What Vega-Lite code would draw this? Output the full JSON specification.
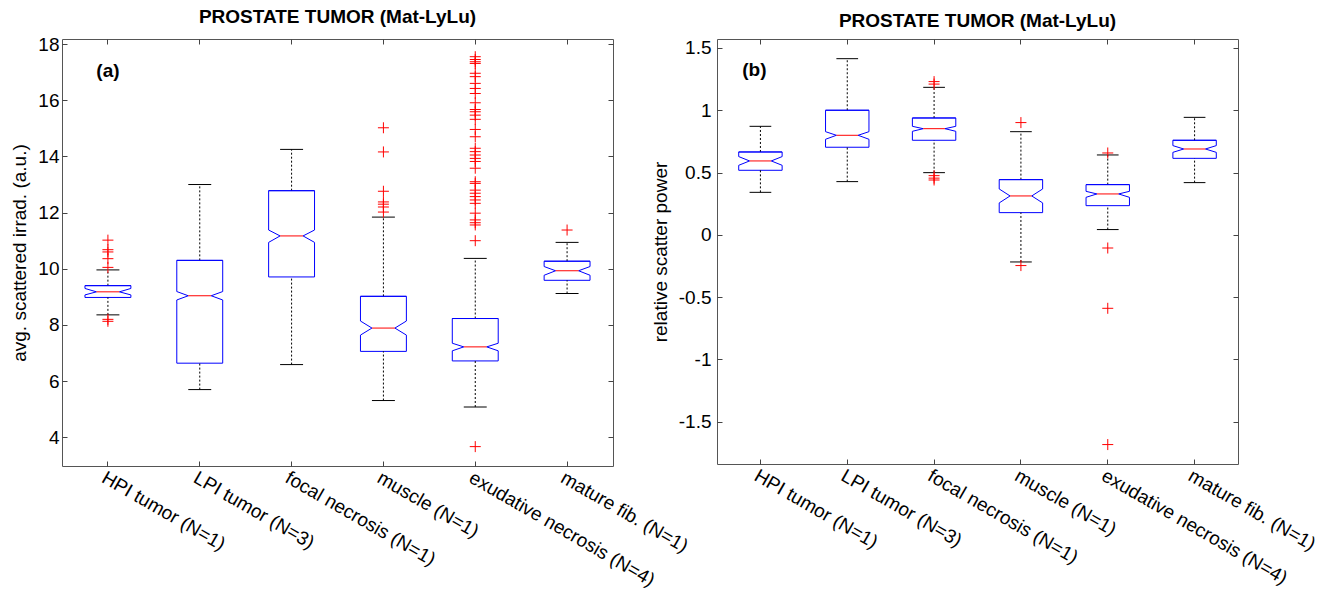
{
"$schema": "https://vega.github.io/schema/vega-lite/v6.json",
"padding": {"left": 10, "top": 7, "right": 5, "bottom": 5},
"spacing": 104,
"bounds": "flush",
"config": {
  "font": "Liberation Sans",
  "view": {"stroke": "#555", "strokeWidth": 1},
  "axis": {"domain": false, "grid": false, "labelFont": "Liberation Sans", "labelFontSize": 19, "labelColor": "black", "tickColor": "#444", "tickSize": -5, "titleFont": "Liberation Sans", "titleFontSize": 19, "titleFontWeight": "normal", "titleColor": "black"},
  "title": {"font": "Liberation Sans", "fontSize": 19, "fontWeight": "bold", "anchor": "middle", "color": "black", "offset": 8}
},
"datasets": {
  "a": [
    {"cat": "HPI tumor (N=1)", "lw": 8.36, "q1": 8.98, "nlo": 9.07, "med": 9.18, "nhi": 9.30, "q3": 9.40, "uw": 9.96},
    {"cat": "LPI tumor (N=3)", "lw": 5.70, "q1": 6.64, "nlo": 8.89, "med": 9.04, "nhi": 9.19, "q3": 10.30, "uw": 13.00},
    {"cat": "focal necrosis (N=1)", "lw": 6.59, "q1": 9.71, "nlo": 10.94, "med": 11.17, "nhi": 11.38, "q3": 12.78, "uw": 14.25},
    {"cat": "muscle (N=1)", "lw": 5.31, "q1": 7.06, "nlo": 7.64, "med": 7.89, "nhi": 8.14, "q3": 9.02, "uw": 11.84},
    {"cat": "exudative necrosis (N=4)", "lw": 5.08, "q1": 6.72, "nlo": 7.08, "med": 7.22, "nhi": 7.35, "q3": 8.23, "uw": 10.37},
    {"cat": "mature fib. (N=1)", "lw": 9.12, "q1": 9.59, "nlo": 9.77, "med": 9.93, "nhi": 10.08, "q3": 10.27, "uw": 10.94}
  ],
  "a_out": [
    {"cat": "HPI tumor (N=1)", "v": 11.02}, {"cat": "HPI tumor (N=1)", "v": 10.68}, {"cat": "HPI tumor (N=1)", "v": 10.60}, {"cat": "HPI tumor (N=1)", "v": 10.36}, {"cat": "HPI tumor (N=1)", "v": 10.05}, {"cat": "HPI tumor (N=1)", "v": 8.20}, {"cat": "HPI tumor (N=1)", "v": 8.13},
    {"cat": "muscle (N=1)", "v": 15.02}, {"cat": "muscle (N=1)", "v": 14.16}, {"cat": "muscle (N=1)", "v": 12.76}, {"cat": "muscle (N=1)", "v": 12.38}, {"cat": "muscle (N=1)", "v": 12.30}, {"cat": "muscle (N=1)", "v": 12.20}, {"cat": "muscle (N=1)", "v": 12.02},
    {"cat": "exudative necrosis (N=4)", "v": 17.55}, {"cat": "exudative necrosis (N=4)", "v": 17.45}, {"cat": "exudative necrosis (N=4)", "v": 17.37}, {"cat": "exudative necrosis (N=4)", "v": 17.31}, {"cat": "exudative necrosis (N=4)", "v": 16.96}, {"cat": "exudative necrosis (N=4)", "v": 16.84}, {"cat": "exudative necrosis (N=4)", "v": 16.60}, {"cat": "exudative necrosis (N=4)", "v": 16.42}, {"cat": "exudative necrosis (N=4)", "v": 16.24}, {"cat": "exudative necrosis (N=4)", "v": 15.91}, {"cat": "exudative necrosis (N=4)", "v": 15.67}, {"cat": "exudative necrosis (N=4)", "v": 15.59}, {"cat": "exudative necrosis (N=4)", "v": 15.47}, {"cat": "exudative necrosis (N=4)", "v": 15.32}, {"cat": "exudative necrosis (N=4)", "v": 14.96}, {"cat": "exudative necrosis (N=4)", "v": 14.70}, {"cat": "exudative necrosis (N=4)", "v": 14.29}, {"cat": "exudative necrosis (N=4)", "v": 14.17}, {"cat": "exudative necrosis (N=4)", "v": 14.05}, {"cat": "exudative necrosis (N=4)", "v": 13.93}, {"cat": "exudative necrosis (N=4)", "v": 13.82}, {"cat": "exudative necrosis (N=4)", "v": 13.58}, {"cat": "exudative necrosis (N=4)", "v": 13.10}, {"cat": "exudative necrosis (N=4)", "v": 13.04}, {"cat": "exudative necrosis (N=4)", "v": 12.80}, {"cat": "exudative necrosis (N=4)", "v": 12.69}, {"cat": "exudative necrosis (N=4)", "v": 12.57}, {"cat": "exudative necrosis (N=4)", "v": 12.45}, {"cat": "exudative necrosis (N=4)", "v": 12.33}, {"cat": "exudative necrosis (N=4)", "v": 11.98}, {"cat": "exudative necrosis (N=4)", "v": 11.74}, {"cat": "exudative necrosis (N=4)", "v": 11.64}, {"cat": "exudative necrosis (N=4)", "v": 11.56}, {"cat": "exudative necrosis (N=4)", "v": 11.00}, {"cat": "exudative necrosis (N=4)", "v": 3.67},
    {"cat": "mature fib. (N=1)", "v": 11.38}
  ],
  "b": [
    {"cat": "HPI tumor (N=1)", "lw": 0.341, "q1": 0.518, "nlo": 0.558, "med": 0.593, "nhi": 0.628, "q3": 0.665, "uw": 0.871},
    {"cat": "LPI tumor (N=3)", "lw": 0.427, "q1": 0.703, "nlo": 0.767, "med": 0.799, "nhi": 0.828, "q3": 1.0, "uw": 1.414},
    {"cat": "focal necrosis (N=1)", "lw": 0.499, "q1": 0.759, "nlo": 0.831, "med": 0.852, "nhi": 0.871, "q3": 0.938, "uw": 1.184},
    {"cat": "muscle (N=1)", "lw": -0.218, "q1": 0.178, "nlo": 0.256, "med": 0.312, "nhi": 0.368, "q3": 0.443, "uw": 0.828},
    {"cat": "exudative necrosis (N=4)", "lw": 0.042, "q1": 0.234, "nlo": 0.301, "med": 0.328, "nhi": 0.349, "q3": 0.403, "uw": 0.641},
    {"cat": "mature fib. (N=1)", "lw": 0.419, "q1": 0.614, "nlo": 0.662, "med": 0.689, "nhi": 0.716, "q3": 0.759, "uw": 0.943}
  ],
  "b_out": [
    {"cat": "focal necrosis (N=1)", "v": 1.23}, {"cat": "focal necrosis (N=1)", "v": 1.21}, {"cat": "focal necrosis (N=1)", "v": 0.475}, {"cat": "focal necrosis (N=1)", "v": 0.455}, {"cat": "focal necrosis (N=1)", "v": 0.44},
    {"cat": "muscle (N=1)", "v": 0.901}, {"cat": "muscle (N=1)", "v": -0.247},
    {"cat": "exudative necrosis (N=4)", "v": 0.657}, {"cat": "exudative necrosis (N=4)", "v": -0.106}, {"cat": "exudative necrosis (N=4)", "v": -0.59}, {"cat": "exudative necrosis (N=4)", "v": -1.684}
  ]
},
"hconcat": [
  {
    "width": 551, "height": 427,
    "title": {"text": "PROSTATE TUMOR (Mat-LyLu)"},
    "data": {"name": "a"},
    "resolve": {"axis": {"x": "independent", "y": "independent"}},
    "layer": [
      {"mark": {"type": "rule", "color": "blue"},
       "encoding": {
         "x": {"field": "cat", "type": "nominal", "bandPosition": 0,
               "scale": {"domain": ["HPI tumor (N=1)", "LPI tumor (N=3)", "focal necrosis (N=1)", "muscle (N=1)", "exudative necrosis (N=4)", "mature fib. (N=1)"], "paddingInner": 0.5, "paddingOuter": 0.25},
               "axis": {"title": null, "labelAngle": 30, "labelAlign": "left", "labelBaseline": "top", "labelPadding": 7, "labelOverlap": false, "labelLimit": 0, "labelBound": false}},
         "x2": {"field": "cat", "bandPosition": 1},
         "y": {"field": "q3", "type": "quantitative", "scale": {"domain": [2.98, 18.18], "nice": false, "zero": false},
               "axis": {"title": "avg. scattered irrad. (a.u.)", "values": [4, 6, 8, 10, 12, 14, 16, 18], "labelPadding": 8, "titlePadding": 8}}}},
      {"mark": {"type": "rule", "color": "blue"},
       "encoding": {"x": {"field": "cat", "type": "nominal", "bandPosition": 0, "axis": null}, "x2": {"field": "cat", "bandPosition": 1}, "y": {"field": "q1", "type": "quantitative", "axis": null}}},
      {"mark": {"type": "rule", "color": "blue"},
       "encoding": {"x": {"field": "cat", "type": "nominal", "bandPosition": 0, "axis": null}, "y": {"field": "nhi", "type": "quantitative", "axis": null}, "y2": {"field": "q3"}}},
      {"mark": {"type": "rule", "color": "blue"},
       "encoding": {"x": {"field": "cat", "type": "nominal", "bandPosition": 0, "axis": null}, "y": {"field": "q1", "type": "quantitative", "axis": null}, "y2": {"field": "nlo"}}},
      {"mark": {"type": "rule", "color": "blue"},
       "encoding": {"x": {"field": "cat", "type": "nominal", "bandPosition": 1, "axis": null}, "y": {"field": "nhi", "type": "quantitative", "axis": null}, "y2": {"field": "q3"}}},
      {"mark": {"type": "rule", "color": "blue"},
       "encoding": {"x": {"field": "cat", "type": "nominal", "bandPosition": 1, "axis": null}, "y": {"field": "q1", "type": "quantitative", "axis": null}, "y2": {"field": "nlo"}}},
      {"mark": {"type": "rule", "color": "blue"},
       "encoding": {"x": {"field": "cat", "type": "nominal", "bandPosition": 0, "axis": null}, "x2": {"field": "cat", "bandPosition": 0.25}, "y": {"field": "nhi", "type": "quantitative", "axis": null}, "y2": {"field": "med"}}},
      {"mark": {"type": "rule", "color": "blue"},
       "encoding": {"x": {"field": "cat", "type": "nominal", "bandPosition": 0, "axis": null}, "x2": {"field": "cat", "bandPosition": 0.25}, "y": {"field": "nlo", "type": "quantitative", "axis": null}, "y2": {"field": "med"}}},
      {"mark": {"type": "rule", "color": "blue"},
       "encoding": {"x": {"field": "cat", "type": "nominal", "bandPosition": 1, "axis": null}, "x2": {"field": "cat", "bandPosition": 0.75}, "y": {"field": "nhi", "type": "quantitative", "axis": null}, "y2": {"field": "med"}}},
      {"mark": {"type": "rule", "color": "blue"},
       "encoding": {"x": {"field": "cat", "type": "nominal", "bandPosition": 1, "axis": null}, "x2": {"field": "cat", "bandPosition": 0.75}, "y": {"field": "nlo", "type": "quantitative", "axis": null}, "y2": {"field": "med"}}},
      {"mark": {"type": "rule", "color": "red"},
       "encoding": {"x": {"field": "cat", "type": "nominal", "bandPosition": 0.25, "axis": null}, "x2": {"field": "cat", "bandPosition": 0.75}, "y": {"field": "med", "type": "quantitative", "axis": null}}},
      {"mark": {"type": "rule", "color": "black", "strokeDash": [2, 2]},
       "encoding": {"x": {"field": "cat", "type": "nominal", "axis": null}, "y": {"field": "q3", "type": "quantitative", "axis": null}, "y2": {"field": "uw"}}},
      {"mark": {"type": "rule", "color": "black", "strokeDash": [2, 2]},
       "encoding": {"x": {"field": "cat", "type": "nominal", "axis": null}, "y": {"field": "lw", "type": "quantitative", "axis": null}, "y2": {"field": "q1"}}},
      {"mark": {"type": "rule", "color": "black"},
       "encoding": {"x": {"field": "cat", "type": "nominal", "bandPosition": 0.25, "axis": null}, "x2": {"field": "cat", "bandPosition": 0.75}, "y": {"field": "uw", "type": "quantitative", "axis": null}}},
      {"mark": {"type": "rule", "color": "black"},
       "encoding": {"x": {"field": "cat", "type": "nominal", "bandPosition": 0.25, "axis": null}, "x2": {"field": "cat", "bandPosition": 0.75}, "y": {"field": "lw", "type": "quantitative", "axis": null}}},
      {"data": {"name": "a_out"},
       "mark": {"type": "point", "shape": "M-1,0L1,0M0,-1L0,1", "size": 121, "filled": false, "color": "red", "strokeWidth": 1, "opacity": 1},
       "encoding": {"x": {"field": "cat", "type": "nominal", "axis": null}, "y": {"field": "v", "type": "quantitative", "axis": null}}},
      {"data": {"values": [{}]},
       "mark": {"type": "text", "text": "(a)", "fontWeight": "bold", "fontSize": 19, "font": "Liberation Sans", "color": "black"},
       "encoding": {"x": {"datum": "HPI tumor (N=1)", "type": "nominal", "axis": null}, "y": {"datum": 17.04, "type": "quantitative", "axis": null}}},
      {"mark": {"type": "rule", "color": "blue"},
       "encoding": {"x": {"field": "cat", "type": "nominal", "bandPosition": 0, "axis": {"orient": "top", "labels": false, "title": null}}, "x2": {"field": "cat", "bandPosition": 1},
                    "y": {"field": "q3", "type": "quantitative", "axis": {"orient": "right", "labels": false, "title": null, "values": [4, 6, 8, 10, 12, 14, 16, 18]}}}}
    ]
  },
  {
    "width": 521, "height": 425,
    "title": {"text": "PROSTATE TUMOR (Mat-LyLu)"},
    "data": {"name": "b"},
    "resolve": {"axis": {"x": "independent", "y": "independent"}},
    "layer": [
      {"mark": {"type": "rule", "color": "blue"},
       "encoding": {
         "x": {"field": "cat", "type": "nominal", "bandPosition": 0,
               "scale": {"domain": ["HPI tumor (N=1)", "LPI tumor (N=3)", "focal necrosis (N=1)", "muscle (N=1)", "exudative necrosis (N=4)", "mature fib. (N=1)"], "paddingInner": 0.5, "paddingOuter": 0.25},
               "axis": {"title": null, "labelAngle": 30, "labelAlign": "left", "labelBaseline": "top", "labelPadding": 7, "labelOverlap": false, "labelLimit": 0, "labelBound": false}},
         "x2": {"field": "cat", "bandPosition": 1},
         "y": {"field": "q3", "type": "quantitative", "scale": {"domain": [-1.84, 1.572], "nice": false, "zero": false},
               "axis": {"title": "relative scatter power", "values": [-1.5, -1, -0.5, 0, 0.5, 1, 1.5], "labelExpr": "datum.value < 0 ? '-' + format(-datum.value, '~g') : format(datum.value, '~g')", "labelPadding": 11, "titlePadding": 8}}}},
      {"mark": {"type": "rule", "color": "blue"},
       "encoding": {"x": {"field": "cat", "type": "nominal", "bandPosition": 0, "axis": null}, "x2": {"field": "cat", "bandPosition": 1}, "y": {"field": "q1", "type": "quantitative", "axis": null}}},
      {"mark": {"type": "rule", "color": "blue"},
       "encoding": {"x": {"field": "cat", "type": "nominal", "bandPosition": 0, "axis": null}, "y": {"field": "nhi", "type": "quantitative", "axis": null}, "y2": {"field": "q3"}}},
      {"mark": {"type": "rule", "color": "blue"},
       "encoding": {"x": {"field": "cat", "type": "nominal", "bandPosition": 0, "axis": null}, "y": {"field": "q1", "type": "quantitative", "axis": null}, "y2": {"field": "nlo"}}},
      {"mark": {"type": "rule", "color": "blue"},
       "encoding": {"x": {"field": "cat", "type": "nominal", "bandPosition": 1, "axis": null}, "y": {"field": "nhi", "type": "quantitative", "axis": null}, "y2": {"field": "q3"}}},
      {"mark": {"type": "rule", "color": "blue"},
       "encoding": {"x": {"field": "cat", "type": "nominal", "bandPosition": 1, "axis": null}, "y": {"field": "q1", "type": "quantitative", "axis": null}, "y2": {"field": "nlo"}}},
      {"mark": {"type": "rule", "color": "blue"},
       "encoding": {"x": {"field": "cat", "type": "nominal", "bandPosition": 0, "axis": null}, "x2": {"field": "cat", "bandPosition": 0.25}, "y": {"field": "nhi", "type": "quantitative", "axis": null}, "y2": {"field": "med"}}},
      {"mark": {"type": "rule", "color": "blue"},
       "encoding": {"x": {"field": "cat", "type": "nominal", "bandPosition": 0, "axis": null}, "x2": {"field": "cat", "bandPosition": 0.25}, "y": {"field": "nlo", "type": "quantitative", "axis": null}, "y2": {"field": "med"}}},
      {"mark": {"type": "rule", "color": "blue"},
       "encoding": {"x": {"field": "cat", "type": "nominal", "bandPosition": 1, "axis": null}, "x2": {"field": "cat", "bandPosition": 0.75}, "y": {"field": "nhi", "type": "quantitative", "axis": null}, "y2": {"field": "med"}}},
      {"mark": {"type": "rule", "color": "blue"},
       "encoding": {"x": {"field": "cat", "type": "nominal", "bandPosition": 1, "axis": null}, "x2": {"field": "cat", "bandPosition": 0.75}, "y": {"field": "nlo", "type": "quantitative", "axis": null}, "y2": {"field": "med"}}},
      {"mark": {"type": "rule", "color": "red"},
       "encoding": {"x": {"field": "cat", "type": "nominal", "bandPosition": 0.25, "axis": null}, "x2": {"field": "cat", "bandPosition": 0.75}, "y": {"field": "med", "type": "quantitative", "axis": null}}},
      {"mark": {"type": "rule", "color": "black", "strokeDash": [2, 2]},
       "encoding": {"x": {"field": "cat", "type": "nominal", "axis": null}, "y": {"field": "q3", "type": "quantitative", "axis": null}, "y2": {"field": "uw"}}},
      {"mark": {"type": "rule", "color": "black", "strokeDash": [2, 2]},
       "encoding": {"x": {"field": "cat", "type": "nominal", "axis": null}, "y": {"field": "lw", "type": "quantitative", "axis": null}, "y2": {"field": "q1"}}},
      {"mark": {"type": "rule", "color": "black"},
       "encoding": {"x": {"field": "cat", "type": "nominal", "bandPosition": 0.25, "axis": null}, "x2": {"field": "cat", "bandPosition": 0.75}, "y": {"field": "uw", "type": "quantitative", "axis": null}}},
      {"mark": {"type": "rule", "color": "black"},
       "encoding": {"x": {"field": "cat", "type": "nominal", "bandPosition": 0.25, "axis": null}, "x2": {"field": "cat", "bandPosition": 0.75}, "y": {"field": "lw", "type": "quantitative", "axis": null}}},
      {"data": {"name": "b_out"},
       "mark": {"type": "point", "shape": "M-1,0L1,0M0,-1L0,1", "size": 121, "filled": false, "color": "red", "strokeWidth": 1, "opacity": 1},
       "encoding": {"x": {"field": "cat", "type": "nominal", "axis": null}, "y": {"field": "v", "type": "quantitative", "axis": null}}},
      {"data": {"values": [{}]},
       "mark": {"type": "text", "text": "(b)", "fontWeight": "bold", "fontSize": 19, "font": "Liberation Sans", "color": "black", "dx": -6},
       "encoding": {"x": {"datum": "HPI tumor (N=1)", "type": "nominal", "axis": null}, "y": {"datum": 1.327, "type": "quantitative", "axis": null}}},
      {"mark": {"type": "rule", "color": "blue"},
       "encoding": {"x": {"field": "cat", "type": "nominal", "bandPosition": 0, "axis": {"orient": "top", "labels": false, "title": null}}, "x2": {"field": "cat", "bandPosition": 1},
                    "y": {"field": "q3", "type": "quantitative", "axis": {"orient": "right", "labels": false, "title": null, "values": [-1.5, -1, -0.5, 0, 0.5, 1, 1.5]}}}}
    ]
  }
]
}
